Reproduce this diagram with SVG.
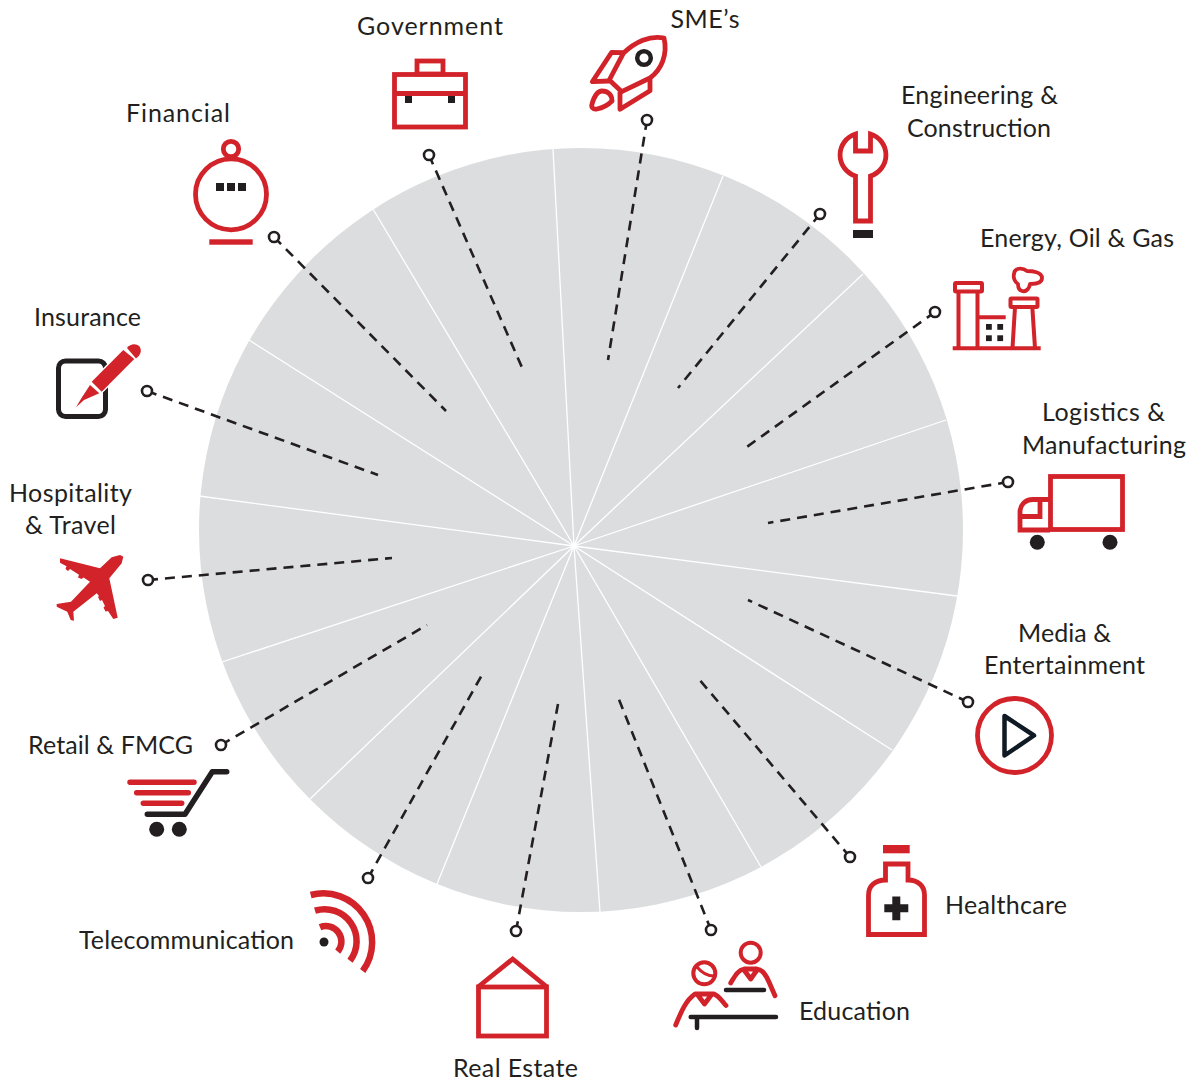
<svg xmlns="http://www.w3.org/2000/svg" width="1199" height="1080" viewBox="0 0 1199 1080">
<style>
text{font-family:"Lato","Liberation Sans",sans-serif;font-size:25px;fill:#231f20;text-anchor:middle}
.s{text-anchor:start}
.r{fill:none;stroke:#d2232a;stroke-width:4.8}
.k{fill:none;stroke:#231f20;stroke-width:4.5}
.rf{fill:#d2232a;stroke:none}
.kf{fill:#231f20;stroke:none}
.spoke{stroke:#fff;stroke-width:1.3;fill:none}
.dash{stroke:#231f20;stroke-width:2.6;stroke-dasharray:10 7;fill:none}
.pin{fill:#fff;stroke:#231f20;stroke-width:2.6}
</style>
<rect width="1199" height="1080" fill="#fff"/>
<g id="wheel">
<circle cx="581" cy="530" r="382" fill="#dcddde"/>
<path class="spoke" d="M574 546L553 149M574 546L723 176M574 546L863 274M574 546L946 420M574 546L957 596M574 546L892 750M574 546L761 867M574 546L600 912M574 546L437 884M574 546L310 799M574 546L222 662M574 546L199 496M574 546L249 340M574 546L373 209"/>
</g>
<g id="connectors">
<path class="dash" d="M429 155L524 372"/><circle class="pin" cx="429" cy="155" r="5"/>
<path class="dash" d="M647 120L608 360"/><circle class="pin" cx="647" cy="120" r="5"/>
<path class="dash" d="M820 214L678 388"/><circle class="pin" cx="820" cy="214" r="5"/>
<path class="dash" d="M935 312L744 449"/><circle class="pin" cx="935" cy="312" r="5"/>
<path class="dash" d="M1008 482L768 523"/><circle class="pin" cx="1008" cy="482" r="5"/>
<path class="dash" d="M968 702L748 600"/><circle class="pin" cx="968" cy="702" r="5"/>
<path class="dash" d="M850 857L698 678"/><circle class="pin" cx="850" cy="857" r="5"/>
<path class="dash" d="M711 930L618 697"/><circle class="pin" cx="711" cy="930" r="5"/>
<path class="dash" d="M516 931L558 704"/><circle class="pin" cx="516" cy="931" r="5"/>
<path class="dash" d="M368 878L483 673"/><circle class="pin" cx="368" cy="878" r="5"/>
<path class="dash" d="M221 745L427 625"/><circle class="pin" cx="221" cy="745" r="5"/>
<path class="dash" d="M148 580L392 558"/><circle class="pin" cx="148" cy="580" r="5"/>
<path class="dash" d="M147 391L378 475"/><circle class="pin" cx="147" cy="391" r="5"/>
<path class="dash" d="M274 237L446 411"/><circle class="pin" cx="274" cy="237" r="5"/>
</g>
<g id="government">
<text x="430" y="35" textLength="146">Government</text>
<rect class="r" x="417" y="61" width="26" height="13"/>
<rect class="r" x="394.500" y="74.500" width="71" height="52.500"/>
<path class="r" d="M394 93.500H466"/>
<rect class="kf" x="405" y="96" width="7" height="7"/><rect class="kf" x="448" y="96" width="7" height="7"/>
</g>
<g id="smes">
<text x="705" y="28" textLength="69">SME’s</text>
<path class="r" stroke-linejoin="round" d="M664 38C650 35 635 42 623.300 53.300L609.300 80L621.700 91.700L650 78C661 70 668 55 664 38Z"/>
<path class="r" stroke-linejoin="round" d="M623.300 52.700L611.700 52.300L592.300 81.700L609.300 81M650 78L650 90.700L620 109.300L620 91.700"/>
<path class="r" stroke-linejoin="round" d="M592 104C594 97 597 91 602 91C608 91 612 95 612 101C608 105 602 108 597 109C593 110 591 107 592 104Z"/>
<circle class="k" cx="644" cy="58" r="6.800"/>
</g>
<g id="engineering">
<text x="979.500" y="104" textLength="157">Engineering &amp;</text><text x="979" y="137" textLength="144">Construction</text>
<path class="r" d="M855.500 134A22 22 0 0 0 855.500 176V221H870.500V176A22 22 0 0 0 870.500 134V151H855.500Z"/>
<rect class="kf" x="853" y="230" width="20" height="8"/>
</g>
<g id="energy">
<text x="1077" y="247" textLength="194">Energy, Oil &amp; Gas</text>
<path class="r" style="stroke-width:4" d="M952.700 348.300H1040.700"/>
<rect class="r" style="stroke-width:4" x="955" y="283" width="27" height="8.500" rx="1"/>
<path class="r" style="stroke-width:4" d="M958.500 291.500V348M977.500 291.500V348M978 317.300H1005.700"/>
<rect class="r" style="stroke-width:4" x="1010.500" y="298.500" width="27" height="8.500" rx="1"/>
<path class="r" style="stroke-width:4" d="M1012.500 348L1015 307M1035 348L1032.300 307"/>
<path class="r" style="stroke-width:3.800" stroke-linejoin="round" d="M1014 274C1014 268 1022 267 1027 271C1032 271 1042 272 1042 278C1042 283 1035 284 1030 284C1029 290 1025 292 1022 291C1018 290 1018 286 1018 284C1015 282 1013 278 1014 274Z"/>
<g class="kf"><rect x="986" y="324" width="5.800" height="5.800"/><rect x="997.300" y="324" width="5.800" height="5.800"/><rect x="986" y="335.300" width="5.800" height="5.800"/><rect x="997.300" y="335.300" width="5.800" height="5.800"/></g>
</g>
<g id="logistics">
<text x="1103.500" y="421" textLength="123">Logistics &amp;</text><text x="1104" y="454" textLength="164">Manufacturing</text>
<rect class="r" x="1050.500" y="476.500" width="72" height="53"/>
<path class="r" d="M1050 499.500H1033C1025 499.500 1020 505 1020 512V530H1050M1040 500V516.500H1020"/>
<circle class="kf" cx="1037.300" cy="542.300" r="7.500"/><circle class="kf" cx="1110" cy="542.300" r="7.500"/>
</g>
<g id="media">
<text x="1064.500" y="642" textLength="93">Media &amp;</text><text x="1064.500" y="674" textLength="161">Entertainment</text>
<circle class="r" cx="1014.500" cy="735.500" r="37"/>
<path d="M1004.500 716V755.500L1034 735.500Z" fill="none" stroke="#0f1a24" stroke-width="4.500" stroke-linejoin="round"/>
</g>
<g id="healthcare">
<text class="s" x="945" y="914" textLength="122">Healthcare</text>
<rect class="rf" x="883" y="845" width="26.700" height="8.300"/>
<path class="r" d="M868.500 934.500V895C868.500 886 875 880 885.500 880V864H908V880C918 880 924.500 886 924.500 895V934.500Z"/>
<path class="kf" d="M892.300 896.500H900.300V904.300H908.300V912.300H900.300V920.300H892.300V912.300H884.300V904.300H892.300Z"/>
</g>
<g id="education">
<text class="s" x="799" y="1020" textLength="111">Education</text>
<circle class="r" style="stroke-width:4" cx="704.300" cy="973.300" r="11"/>
<path class="r" style="stroke-width:3" d="M697 967C702 973 708 976 714 976"/>
<path class="r" style="stroke-linecap:round;stroke-linejoin:round" d="M675.700 1025C681 1012 686 1000 695 994H714C719 996 722 1001 726 1005.500M697 994L704.500 1004L712 994"/>
<path class="k" stroke-linecap="round" d="M690.700 1017H776M697 1017V1028M726 990H764"/>
<circle class="r" style="stroke-width:4" cx="750.700" cy="952.700" r="10"/>
<path class="r" style="stroke-linecap:round;stroke-linejoin:round" d="M730.700 983C735 976 738 970 744 969H757C763 970 766 975 769 982L775 995.700M744 970L750.700 979L757 970"/>
</g>
<g id="real-estate">
<text x="515.500" y="1077" textLength="125">Real Estate</text>
<rect class="r" x="478.500" y="987" width="68" height="49"/>
<path class="r" d="M478 987L512.700 959L547 987"/>
</g>
<g id="telecommunication">
<text x="186.500" y="949" textLength="215">Telecommunication</text>
<circle class="kf" cx="324" cy="942" r="4.500"/>
<path class="r" style="stroke-width:6.500" d="M310.700 895A48.800 48.800 0 0 1 362.700 971M315 910.700A32 32 0 0 1 350 960.700M320 927.300A15.500 15.500 0 0 1 337.700 951.700"/>
</g>
<g id="retail">
<text x="110.500" y="754" textLength="165">Retail &amp; FMCG</text>
<path class="r" style="stroke-width:5.500;stroke-linecap:round" d="M130 782.300H194M136.700 792.700H188.300M143.300 803.300H181.700"/>
<path class="k" style="stroke-width:5.500" stroke-linecap="round" stroke-linejoin="round" d="M147.300 814.300H185L212.300 771.700H226.700"/>
<circle class="kf" cx="156.700" cy="829.300" r="7.500"/><circle class="kf" cx="179.300" cy="829.300" r="7.500"/>
</g>
<g id="hospitality">
<text x="70.500" y="502" textLength="123">Hospitality</text><text x="70.500" y="534" textLength="91">&amp; Travel</text>
<path class="rf" d="M123.300 556.700L121.700 563.300L109.300 578.300L117.700 617.700L113.300 619L108 611L105.500 611.500L103.500 607.500L105 606L102 600L100 601L98 597L99 596L96.700 593.300L73.300 611.700L74 620.700L70.700 620L67.300 611.700L56.700 606.700L56.700 604L71 601.700L90 581.700L83.500 577.600L81.500 579L78 577.500L79 574.800L70 569L68 571L65.500 569L66.500 566.200L60 562.700L60 558.300L100 568.300L111.700 557.300L120 555Z"/>
</g>
<g id="insurance">
<text x="87.500" y="326" textLength="107">Insurance</text>
<rect class="k" style="stroke-width:5" x="58.500" y="361" width="47" height="55.500" rx="7"/>
<path d="M91.700 381.700L123.300 350L134.300 359L101.700 391.700L99.300 393.300L84 400L76 407.300L81.500 398L90 385Z" fill="#fff" stroke="#fff" stroke-width="3"/>
<path class="rf" d="M91.700 381.700L123.300 350L134.300 359L101.700 391.700Z"/>
<path class="rf" d="M127 348C130 344 136 343 139.500 346.500C142 350 141 355 136 358.500Z"/>
<path class="rf" d="M90 385L99.300 393.300L84 400L76 407.300L81.500 398Z"/>
</g>
<g id="financial">
<text x="178" y="122" textLength="104">Financial</text>
<circle class="r" cx="231" cy="149" r="7.700"/>
<circle class="r" cx="231" cy="194.300" r="35.500"/>
<rect class="rf" x="209.300" y="239.300" width="43.400" height="5.400"/>
<g class="kf"><rect x="216" y="183" width="8" height="8"/><rect x="227" y="183" width="8" height="8"/><rect x="238" y="183" width="8" height="8"/></g>
</g>
</svg>
